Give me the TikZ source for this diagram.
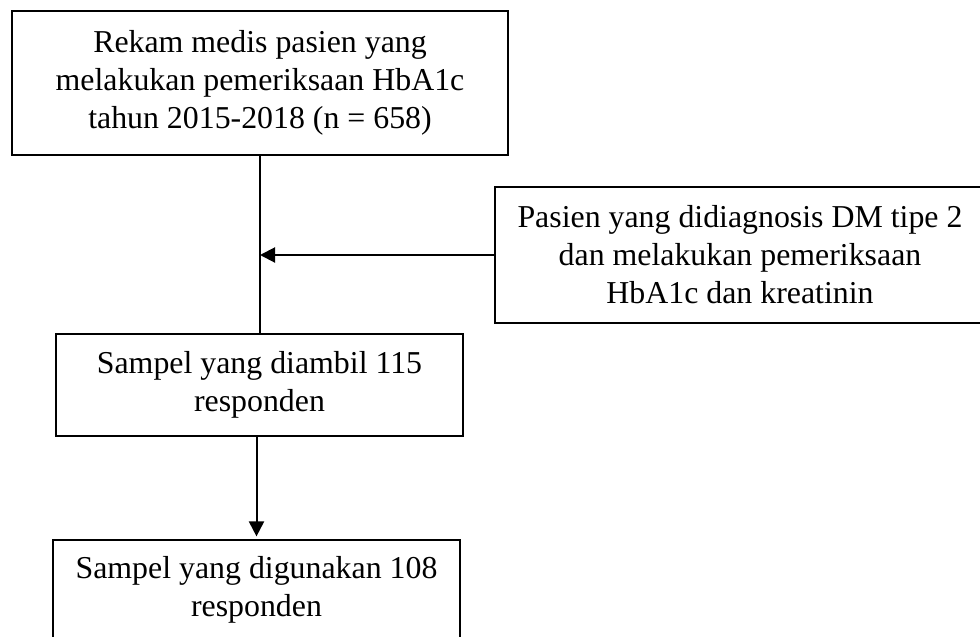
\documentclass[tikz,border=0pt]{standalone}
\usepackage{fontspec}
\setmainfont{Liberation Serif}
\usetikzlibrary{arrows.meta}
\begin{document}
\begin{tikzpicture}[x=1pt,y=-1pt,
  box/.style={draw=black, line width=1.2pt, inner sep=0pt, align=center,
              font=\fontsize{31.85}{38}\selectfont},
  conn/.style={line width=2pt, -{Triangle[length=15pt,width=15pt]}},
  plainline/.style={line width=2pt}]
\useasboundingbox (0,0) rectangle (980,637);
\clip (0,0) rectangle (980,637);
\fill[white] (0,0) rectangle (980,637);
\node[box, minimum width=496pt, minimum height=144pt] (b1) at (260,83)
  {Rekam medis pasien yang\\melakukan pemeriksaan HbA1c\\tahun 2015-2018 (n = 658)};
\node[box, minimum width=490pt, minimum height=136pt] (b2) at (740,255)
  {Pasien yang didiagnosis DM tipe 2\\dan melakukan pemeriksaan\\HbA1c dan kreatinin};
\node[box, minimum width=407pt, minimum height=102pt] (b3) at (259.5,385)
  {Sampel yang diambil 115\\responden};
\node[box, minimum width=407pt, minimum height=100pt] (b4) at (256.5,590)
  {Sampel yang digunakan 108\\responden};
\draw[plainline] (b1.south) -- (b1.south |- b3.north);
\draw[conn] (b2.west) -- (b1.south |- b2.west);
\draw[conn, shorten >=3pt] (b4.north |- b3.south) -- (b4.north);
\end{tikzpicture}
\end{document}
